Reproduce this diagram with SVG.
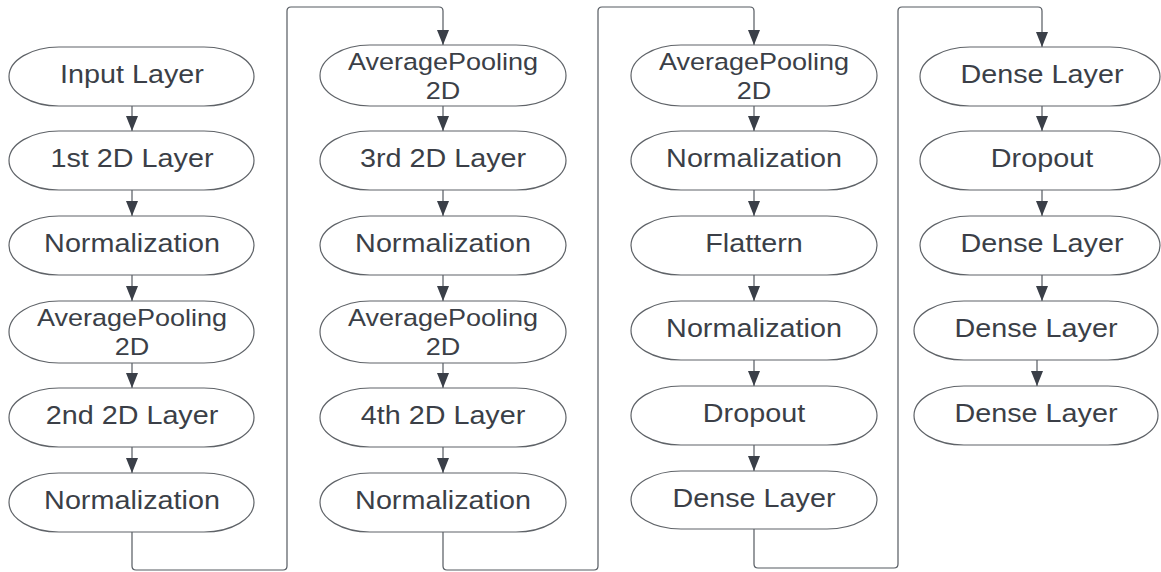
<svg xmlns="http://www.w3.org/2000/svg" width="1161" height="572" viewBox="0 0 1161 572">
  <defs>
    <style>
      .node rect { fill: #ffffff; stroke: #5f6368; stroke-width: 1.2; }
      .node text { font-family: "Liberation Sans", Arial, sans-serif; font-size: 25px; fill: #3b3f47; text-anchor: middle; }
      .node text.two { font-size: 23.5px; }
      .wire { fill: none; stroke: #555a61; stroke-width: 1.2; }
    </style>
    <marker id="arrowDown" markerUnits="userSpaceOnUse" markerWidth="15" markerHeight="12" refX="15" refY="6" orient="auto" viewBox="0 0 15 12">
      <path d="M0,0 L15,6 L0,12 Z" fill="#3a3f48"/>
    </marker>
  </defs>

  <!-- connectors -->
  <g id="connectors">
    <!-- column 1 -->
    <path class="wire" d="M132,106 V131" marker-end="url(#arrowDown)"/>
    <path class="wire" d="M132,190 V216" marker-end="url(#arrowDown)"/>
    <path class="wire" d="M132,275 V301" marker-end="url(#arrowDown)"/>
    <path class="wire" d="M132,363 V388" marker-end="url(#arrowDown)"/>
    <path class="wire" d="M132,447 V473" marker-end="url(#arrowDown)"/>
    <path class="wire" d="M132,532 V566 Q132,570 136,570 H283 Q287,570 287,566 V11 Q287,7 291,7 H439 Q443,7 443,11 V45" marker-end="url(#arrowDown)"/>
    <!-- column 2 -->
    <path class="wire" d="M443,106 V131" marker-end="url(#arrowDown)"/>
    <path class="wire" d="M443,190 V216" marker-end="url(#arrowDown)"/>
    <path class="wire" d="M443,275 V301" marker-end="url(#arrowDown)"/>
    <path class="wire" d="M443,363 V388" marker-end="url(#arrowDown)"/>
    <path class="wire" d="M443,447 V473" marker-end="url(#arrowDown)"/>
    <path class="wire" d="M443,532 V566 Q443,570 447,570 H594 Q598,570 598,566 V11 Q598,7 602,7 H750 Q754,7 754,11 V45" marker-end="url(#arrowDown)"/>
    <!-- column 3 -->
    <path class="wire" d="M754,106 V131" marker-end="url(#arrowDown)"/>
    <path class="wire" d="M754,190 V216" marker-end="url(#arrowDown)"/>
    <path class="wire" d="M754,275 V301" marker-end="url(#arrowDown)"/>
    <path class="wire" d="M754,360 V386" marker-end="url(#arrowDown)"/>
    <path class="wire" d="M754,445 V471" marker-end="url(#arrowDown)"/>
    <path class="wire" d="M754,529 V564 Q754,568 758,568 H894 Q898,568 898,564 V11 Q898,7 902,7 H1038 Q1042,7 1042,11 V47" marker-end="url(#arrowDown)"/>
    <!-- column 4 -->
    <path class="wire" d="M1042,106 V131" marker-end="url(#arrowDown)"/>
    <path class="wire" d="M1042,190 V216" marker-end="url(#arrowDown)"/>
    <path class="wire" d="M1042,275 V301" marker-end="url(#arrowDown)"/>
    <path class="wire" d="M1037,360 V386" marker-end="url(#arrowDown)"/>
  </g>

  <!-- column 1 -->
  <g id="input-layer" class="node"><rect x="9" y="47" width="245" height="59" rx="50" ry="29.5"/><text transform="translate(132,83) scale(1.15,1)">Input Layer</text></g>
  <g id="conv2d-1" class="node"><rect x="9" y="131" width="245" height="59" rx="50" ry="29.5"/><text transform="translate(132,167) scale(1.15,1)">1st 2D Layer</text></g>
  <g id="norm-1" class="node"><rect x="9" y="216" width="245" height="59" rx="50" ry="29.5"/><text transform="translate(132,252) scale(1.15,1)">Normalization</text></g>
  <g id="avgpool-1" class="node"><rect x="9" y="301" width="245" height="62" rx="50" ry="31"/><text class="two" transform="translate(132,326) scale(1.15,1)">AveragePooling</text><text class="two" transform="translate(132,355) scale(1.15,1)">2D</text></g>
  <g id="conv2d-2" class="node"><rect x="9" y="388" width="245" height="59" rx="50" ry="29.5"/><text transform="translate(132,424) scale(1.15,1)">2nd 2D Layer</text></g>
  <g id="norm-2" class="node"><rect x="9" y="473" width="245" height="59" rx="50" ry="29.5"/><text transform="translate(132,509) scale(1.15,1)">Normalization</text></g>

  <!-- column 2 -->
  <g id="avgpool-2" class="node"><rect x="320" y="45" width="246" height="61" rx="50" ry="30.5"/><text class="two" transform="translate(443,70) scale(1.15,1)">AveragePooling</text><text class="two" transform="translate(443,99) scale(1.15,1)">2D</text></g>
  <g id="conv2d-3" class="node"><rect x="320" y="131" width="246" height="59" rx="50" ry="29.5"/><text transform="translate(443,167) scale(1.15,1)">3rd 2D Layer</text></g>
  <g id="norm-3" class="node"><rect x="320" y="216" width="246" height="59" rx="50" ry="29.5"/><text transform="translate(443,252) scale(1.15,1)">Normalization</text></g>
  <g id="avgpool-3" class="node"><rect x="320" y="301" width="246" height="62" rx="50" ry="31"/><text class="two" transform="translate(443,326) scale(1.15,1)">AveragePooling</text><text class="two" transform="translate(443,355) scale(1.15,1)">2D</text></g>
  <g id="conv2d-4" class="node"><rect x="320" y="388" width="246" height="59" rx="50" ry="29.5"/><text transform="translate(443,424) scale(1.15,1)">4th 2D Layer</text></g>
  <g id="norm-4" class="node"><rect x="320" y="473" width="246" height="59" rx="50" ry="29.5"/><text transform="translate(443,509) scale(1.15,1)">Normalization</text></g>

  <!-- column 3 -->
  <g id="avgpool-4" class="node"><rect x="631" y="45" width="246" height="61" rx="50" ry="30.5"/><text class="two" transform="translate(754,70) scale(1.15,1)">AveragePooling</text><text class="two" transform="translate(754,99) scale(1.15,1)">2D</text></g>
  <g id="norm-5" class="node"><rect x="631" y="131" width="246" height="59" rx="50" ry="29.5"/><text transform="translate(754,167) scale(1.15,1)">Normalization</text></g>
  <g id="flatten" class="node"><rect x="631" y="216" width="246" height="59" rx="50" ry="29.5"/><text transform="translate(754,252) scale(1.15,1)">Flattern</text></g>
  <g id="norm-6" class="node"><rect x="631" y="301" width="246" height="59" rx="50" ry="29.5"/><text transform="translate(754,337) scale(1.15,1)">Normalization</text></g>
  <g id="dropout-1" class="node"><rect x="631" y="386" width="246" height="59" rx="50" ry="29.5"/><text transform="translate(754,422) scale(1.15,1)">Dropout</text></g>
  <g id="dense-1" class="node"><rect x="631" y="471" width="246" height="58" rx="50" ry="29"/><text transform="translate(754,507) scale(1.15,1)">Dense Layer</text></g>

  <!-- column 4 -->
  <g id="dense-2" class="node"><rect x="920" y="47" width="240" height="59" rx="50" ry="29.5"/><text transform="translate(1042,83) scale(1.15,1)">Dense Layer</text></g>
  <g id="dropout-2" class="node"><rect x="920" y="131" width="240" height="59" rx="50" ry="29.5"/><text transform="translate(1042,167) scale(1.15,1)">Dropout</text></g>
  <g id="dense-3" class="node"><rect x="920" y="216" width="240" height="59" rx="50" ry="29.5"/><text transform="translate(1042,252) scale(1.15,1)">Dense Layer</text></g>
  <g id="dense-4" class="node"><rect x="914" y="301" width="244" height="59" rx="50" ry="29.5"/><text transform="translate(1036,337) scale(1.15,1)">Dense Layer</text></g>
  <g id="dense-5" class="node"><rect x="914" y="386" width="244" height="59" rx="50" ry="29.5"/><text transform="translate(1036,422) scale(1.15,1)">Dense Layer</text></g>
</svg>
